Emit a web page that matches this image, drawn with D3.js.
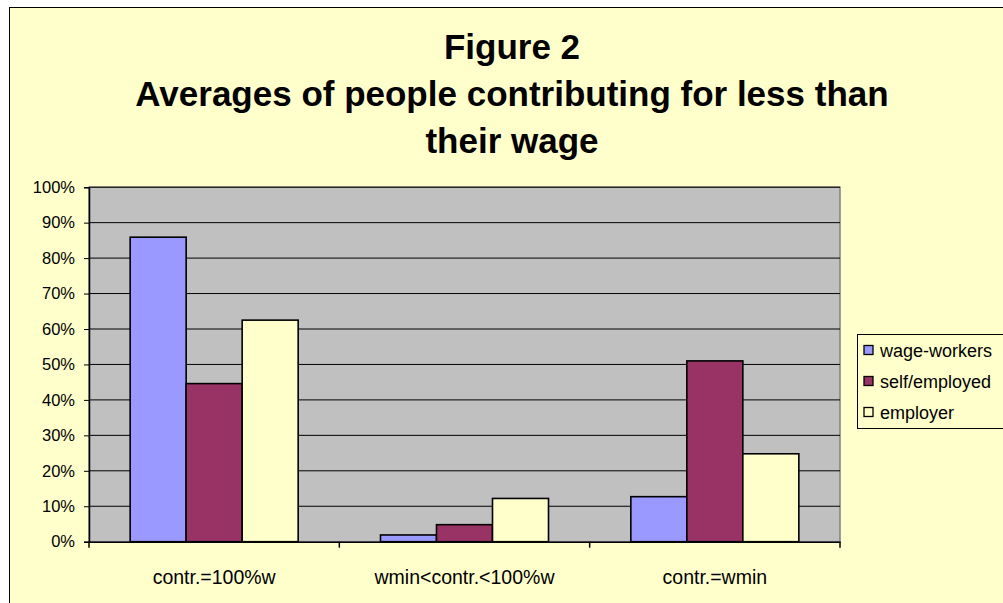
<!DOCTYPE html>
<html><head><meta charset="utf-8">
<script src="https://cdn.jsdelivr.net/npm/d3@7"></script>
<style>html,body{margin:0;padding:0;background:#fff;overflow:hidden}svg{display:block}</style>
</head><body>
<script>
const categories = ["contr.=100%w", "wmin<contr.<100%w", "contr.=wmin"];
const seriesNames = ["wage-workers", "self/employed", "employer"];
const wageWorkers = [0.859, 0.019, 0.127];
const selfEmployed = [0.446, 0.048, 0.510];
const employer = [0.625, 0.122, 0.248];
const yTicks = [0, 0.1, 0.2, 0.3, 0.4, 0.5, 0.6, 0.7, 0.8, 0.9, 1.0];
const titleLines = ["Figure 2", "Averages of people contributing for less than", "their wage"];

const colors = ["#9999FF", "#993366", "#FFFFCC"];
const seriesValues = [wageWorkers, selfEmployed, employer];

const W = 1003, H = 603;
const svg = d3.select("body").append("svg").attr("width", W).attr("height", H);
svg.append("rect").attr("width", W).attr("height", H).attr("fill", "#fff");
svg.append("rect").attr("x", 9.5).attr("y", 7.5).attr("width", W + 10).attr("height", H + 10)
  .attr("fill", "#FFFFCC").attr("stroke", "#000").attr("stroke-width", 1);

const font = "'Liberation Sans', Arial, sans-serif";

// title
const tb = [59, 106, 153];
svg.selectAll("text.title").data(titleLines).join("text")
  .attr("class", "title")
  .attr("x", 512).attr("y", (d, i) => tb[i])
  .attr("text-anchor", "middle")
  .attr("font-family", font).attr("font-weight", "bold").attr("font-size", 35)
  .attr("fill", "#000").text(d => d);

const pL = 89, pR = 840, pT = 187.2, pB = 541.7;
const y = d3.scaleLinear().domain([0, 1]).range([pB, pT]);
const x0 = d3.scaleBand().domain(categories).range([pL, pR]).padding(0);
const x1 = d3.scaleBand().domain(seriesNames).range([0, x0.bandwidth()]).paddingInner(0).paddingOuter(0.735);

// plot area
svg.append("rect").attr("x", pL).attr("y", pT).attr("width", pR - pL).attr("height", pB - pT)
  .attr("fill", "#C0C0C0").attr("stroke", "#808080").attr("stroke-width", 1.5);

// gridlines
svg.append("g").selectAll("line").data(yTicks.filter(d => d > 0)).join("line")
  .attr("x1", pL).attr("x2", pR)
  .attr("y1", d => y(d)).attr("y2", d => y(d))
  .attr("stroke", "#000").attr("stroke-width", 1);

// bars
const groups = svg.append("g").selectAll("g").data(categories).join("g")
  .attr("transform", d => `translate(${x0(d)},0)`);
groups.selectAll("rect").data((c, ci) => seriesNames.map((s, si) => ({ s, si, v: seriesValues[si][ci] })))
  .join("rect")
  .attr("x", d => x1(d.s)).attr("width", x1.bandwidth())
  .attr("y", d => y(d.v)).attr("height", d => y(0) - y(d.v))
  .attr("fill", d => colors[d.si]).attr("stroke", "#000").attr("stroke-width", 1.6);

// y axis
const yAxis = d3.axisLeft(y).tickValues(yTicks).tickFormat(d3.format(".0%")).tickSize(5).tickPadding(9);
const gy = svg.append("g").attr("transform", `translate(${pL},0)`).call(yAxis);
gy.select(".domain").attr("stroke", "#000").attr("stroke-width", 1.5);
gy.selectAll(".tick line").attr("stroke", "#000");
gy.selectAll("text").attr("font-family", font).attr("font-size", 16.5).attr("fill", "#000");

// x axis
const xAxis = d3.axisBottom(x0).tickSize(0).tickPadding(28);
const gx = svg.append("g").attr("transform", `translate(0,${pB})`).call(xAxis);
gx.select(".domain").attr("stroke", "#000").attr("stroke-width", 1.5);
gx.selectAll("text").attr("font-family", font).attr("font-size", 19.5).attr("fill", "#000");
// category boundary ticks
const bounds = categories.map(c => x0(c)).concat([pR]);
svg.append("g").selectAll("line").data(bounds).join("line")
  .attr("x1", d => d).attr("x2", d => d)
  .attr("y1", pB).attr("y2", pB + 6)
  .attr("stroke", "#000").attr("stroke-width", 1.5);

// legend
const lg = svg.append("g");
lg.append("rect").attr("x", 857.5).attr("y", 334.5).attr("width", 160).attr("height", 94)
  .attr("fill", "#FFFFCC").attr("stroke", "#000").attr("stroke-width", 1);
const rows = [350, 381, 412];
const items = lg.selectAll("g.item").data(seriesNames).join("g").attr("class", "item")
  .attr("transform", (d, i) => `translate(0,${rows[i]})`);
items.append("rect").attr("x", 864).attr("y", -4.5).attr("width", 9).attr("height", 9)
  .attr("fill", (d, i) => colors[i]).attr("stroke", "#000").attr("stroke-width", 1.3);
items.append("text").attr("x", 880).attr("y", 6.5)
  .attr("font-family", font).attr("font-size", 18).attr("fill", "#000").text(d => d);
</script>
</body></html>
